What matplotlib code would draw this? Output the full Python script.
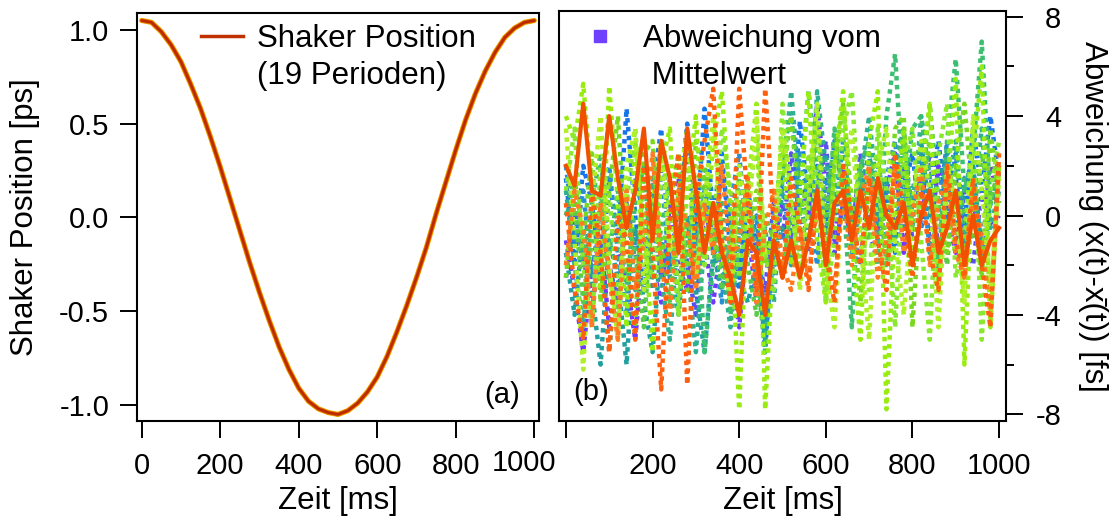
import matplotlib
matplotlib.use("Agg")
import matplotlib.pyplot as plt
import numpy as np
from matplotlib.lines import Line2D
from matplotlib.ticker import MultipleLocator
from matplotlib.transforms import ScaledTranslation

plt.rcParams['font.family'] = ['Liberation Sans', 'DejaVu Sans']
plt.rcParams['axes.unicode_minus'] = False

# (a) shaker position, read every 25 ms
t_pos = np.arange(0, 1001, 25)
shaker_pos = [1.05, 1.04, 0.99, 0.92, 0.83, 0.71, 0.58, 0.43, 0.27, 0.10,
              -0.07, -0.24, -0.40, -0.55, -0.69, -0.81, -0.91, -0.98, -1.02, -1.04,
              -1.05, -1.03, -0.99, -0.93, -0.85, -0.74, -0.61, -0.47, -0.32, -0.16,
              0.02, 0.19, 0.36, 0.52, 0.66, 0.78, 0.88, 0.96, 1.01, 1.04,
              1.05]

# (b) deviation from the mean, read every 20 ms
t_dev = np.arange(0, 1001, 20)
dev_purple = [-1.0, -3.0, -5.5, -2.0, -1.0, -4.5, -1.5, -2.5, -5.0, -1.0,
              -2.0, -3.5, 0.5, -2.0, -3.0, -0.5, -1.0, -3.5, -1.0, -2.0,
              -4.5, -0.5, -3.5, -4.0, -1.0, 0.5, -1.5, 1.5, 0.0, 4.5,
              1.0, -1.0, 2.0, 0.0, -2.0, 1.5, -0.5, 1.0, 2.5, -1.5,
              0.5, 1.5, -1.0, 2.0, 0.0, -1.5, 1.0, 0.5, -1.0, 2.0,
              0.5]
dev_purple2 = [-2.5, 0.0, -1.5, -4.0, -0.5, -2.0, -3.5, 0.5, -1.5, -3.0,
               0.0, -2.5, -1.0, 1.5, -2.0, -4.0, 0.5, -1.5, 2.0, -0.5,
               -2.5, 1.0, -1.5, -3.0, 0.5, -1.0, 2.5, 0.0, -1.5, 1.0,
               3.0, -1.5, 0.5, -1.0, 2.5, -0.5, -2.0, 1.0, -0.5, 2.0,
               -1.0, 0.5, 2.5, -1.5, 0.0, 1.5, -1.0, -2.0, 1.0, -0.5,
               0.0]
dev_blue = [1.5, -2.0, 2.0, 0.5, -2.5, 1.5, -1.0, 4.3, 0.0, -3.0,
            1.0, 3.5, -2.0, 0.5, 3.7, -1.0, 4.3, 0.0, 2.5, -1.5,
            -3.0, 1.0, -1.0, -5.5, 0.0, 1.5, -1.0, 3.8, 0.5, 2.0,
            -0.5, 3.0, 1.0, -1.0, 1.5, -0.5, 2.0, 0.5, -1.5, 1.0,
            2.5, -0.5, 1.0, 3.0, 0.0, 2.5, -0.5, 3.5, 1.0, 4.0,
            1.5]
dev_blue2 = [2.0, -1.0, 1.0, -2.5, 0.5, 2.0, -1.5, -4.0, 1.5, 0.0,
             -3.0, 2.0, -2.5, 0.5, 3.0, -2.0, 1.0, -1.0, -3.5, 0.5,
             2.5, -1.5, 0.0, -4.5, -2.0, 1.0, -1.0, 2.5, 0.5, -2.0,
             1.5, 0.0, 3.0, -1.5, 0.5, 2.5, -1.0, 1.5, 3.0, -0.5,
             1.0, 2.5, -1.5, 0.0, 3.0, -1.0, 1.5, 2.0, -2.0, 0.5,
             1.0]
dev_teal = [-1.5, -4.0, -0.5, -3.0, -6.0, -1.0, -2.5, -6.0, -0.5, -3.5,
            -5.5, -1.0, -2.0, -4.0, 0.0, -3.0, -5.5, -1.5, -3.0, -1.0,
            -2.5, -3.5, -2.0, -5.0, -1.5, -0.5, -2.0, 0.5, -1.0, 1.5,
            2.5, 0.0, 1.5, -0.5, 1.0, 2.5, 0.0, 1.5, -1.0, 2.0,
            0.5, 3.0, 0.0, 1.5, 2.5, -0.5, 1.0, 2.0, -1.5, 0.5,
            1.0]
dev_teal2 = [1.0, -2.0, -4.5, 0.0, -1.5, -5.5, -1.0, 0.5, -3.0, -1.0,
             1.5, -2.5, -5.0, -0.5, -2.0, -5.5, -1.0, 0.5, -2.0, -4.5,
             -0.5, 1.0, -2.0, -0.5, -3.5, 1.5, 5.0, 1.0, -1.0, 5.0,
             2.0, 0.5, 3.0, -0.5, 1.5, 4.0, 0.5, -1.5, 2.0, 3.5,
             -0.5, 4.0, 1.5, -2.5, 1.0, 3.0, -1.0, 0.5, 3.5, -0.5,
             1.0]
dev_green = [0.0, 1.5, -2.0, 0.5, 2.5, -1.5, 1.0, -3.0, 0.5, 2.0,
             -2.5, -0.5, 1.5, -3.5, -1.0, 1.0, -5.5, -2.0, 0.5, -4.0,
             -1.0, 1.5, -2.0, -5.5, 0.0, 2.5, 4.0, 1.0, 5.0, 2.0,
             -1.0, 3.5, 1.0, -4.5, 2.0, 3.0, -2.0, 4.0, 6.5, 0.5,
             3.5, 4.0, 1.5, -2.0, 3.0, 6.3, 1.0, 2.5, 7.0, 0.5,
             2.0]
dev_green2 = [-2.0, 0.5, -3.5, -1.0, 1.0, -2.5, -4.0, 0.0, -1.5, -4.5,
              0.5, -1.0, -3.5, 1.0, -0.5, -2.5, 2.0, 0.0, -3.0, -1.0,
              1.5, -2.0, -4.0, 0.0, -1.0, -2.5, 0.5, -1.5, 1.0, 4.0,
              0.0, 3.0, 1.0, 0.0, 2.0, -1.0, 1.5, -2.0, 0.5, 3.0,
              -0.5, 1.0, 4.5, 0.5, -2.0, 2.0, 0.0, -1.0, 2.5, 0.5,
              2.0]
dev_lime = [4.0, 3.0, 5.3, 1.0, -3.0, 5.2, 0.5, -4.5, 3.0, 0.0,
            -5.5, 2.0, 3.5, -4.0, 1.0, 4.0, -2.0, 3.0, 5.0, 0.0,
            -7.8, 1.0, 4.5, -7.8, -1.0, 3.0, -2.0, 0.5, 5.0, -1.0,
            -3.5, 2.0, 5.0, -1.0, -5.0, 3.0, 5.0, -7.8, 0.0, 3.5,
            -2.0, 1.5, 4.5, -3.0, 1.0, 5.5, -6.0, 2.0, 6.0, -4.5,
            2.0]
dev_lime2 = [3.5, -1.0, -6.2, 0.5, 4.0, -2.0, -5.0, 2.0, 3.5, -3.0,
             0.5, 3.0, -1.5, 1.0, 3.5, -2.5, 0.5, 4.0, -1.0, -3.5,
             2.0, -0.5, 4.0, -1.5, -1.0, 3.5, 1.0, -3.0, 0.5, 4.5,
             -2.0, -4.5, 1.5, 3.5, -1.0, -5.0, 2.0, 3.5, -1.0, -4.0,
             0.5, 3.0, 1.0, -4.5, 2.0, 0.5, -3.5, 4.0, 1.0, -3.0,
             1.5]
dev_lime3 = [-2.5, 1.5, -1.0, 2.5, -3.5, 1.0, 4.0, -2.0, -4.5, 2.5,
             3.0, -2.0, 0.5, 2.5, -3.0, 3.0, 1.5, -1.0, -2.0, -2.5,
             0.5, -1.5, 1.0, -2.0, -0.5, 1.5, 4.0, 0.0, 1.5, 3.5,
             -2.5, 2.0, 4.5, 0.5, -3.5, 1.5, 2.5, -1.5, 3.5, 4.0,
             -4.5, 1.0, 3.0, 0.0, -1.5, 2.0, 4.5, 0.5, -2.5, 3.5,
             0.5]
dev_lime4 = [1.0, 3.5, -2.0, -4.5, 2.0, 1.0, -3.5, 0.5, 3.5, -1.5,
             -2.5, 3.0, 0.0, -4.0, 2.0, 1.5, -2.0, -0.5, 3.5, 1.0,
             -2.5, 0.5, 3.0, -1.5, -3.0, 4.5, 0.5, -2.5, 2.5, 1.5,
             -3.5, -1.0, 3.5, 5.0, -0.5, -3.0, 3.5, 1.0, -4.5, 2.0,
             3.5, -1.0, -5.0, 2.5, 4.5, -2.5, -1.0, 3.5, -5.0, 1.0,
             3.0]
dev_orange = [0.5, -3.0, -5.0, 1.0, -1.5, -5.5, 0.0, -1.0, -5.0, 2.0,
              -1.5, -7.0, 0.0, 2.5, -6.8, 0.5, 3.0, 5.1, -1.0, -3.5,
              5.1, 0.5, -3.0, 5.1, -0.5, -2.5, 1.5, -0.5, -3.0, 1.0,
              -1.5, -3.5, 2.0, 0.0, -2.0, 1.5, -1.0, -3.0, 2.5, 0.0,
              -2.5, 1.0, -1.5, -3.0, 2.0, -1.0, -2.5, 1.5, -2.0, -4.5,
              2.5]
dev_orange2 = [-2.0, 1.0, -0.5, -4.5, 0.5, -2.5, -5.0, 1.0, -3.0, -1.0,
               2.5, -2.0, -4.0, 1.0, -0.5, -3.0, 0.5, -1.5, 2.0, -2.0,
               -1.0, 1.5, -3.5, -0.5, 1.0, -2.0, -3.0, -0.5, -2.5, 0.5,
               -1.5, -3.0, 1.0, -2.0, 0.5, 2.0, -2.5, -1.0, 2.0, -1.5,
               0.0, 2.0, -2.0, 0.5, 1.5, -1.5, -2.5, 1.0, -1.0, -4.0,
               2.0]
dev_thick = [2.0, 1.2, 4.5, 1.0, 0.8, 4.0, 1.5, -0.5, 1.0, 3.5,
             -1.0, 3.0, 1.5, -1.5, 3.5, 1.0, -1.5, 0.5, -1.5, -2.5,
             -4.0, -1.0, -1.5, -4.0, -1.0, -2.5, -1.0, -2.5, -1.0, 1.0,
             -2.0, 0.5, 1.0, -1.0, 1.0, -0.5, 1.5, 0.0, -0.5, 0.5,
             -2.0, 0.0, 1.0, -1.5, -0.5, 1.0, -2.0, 0.0, -2.0, -1.0,
             -0.5]

dotted = [(dev_purple, '#7038ff'), (dev_purple2, '#5a50f0'), (dev_blue, '#1676e8'),
          (dev_blue2, '#2890d0'), (dev_teal, '#22a0a0'), (dev_teal2, '#30b090'),
          (dev_green, '#3cbf70'), (dev_green2, '#5ccc48'), (dev_lime3, '#7ad820'),
          (dev_lime, '#98ec10'), (dev_lime4, '#8ae830'), (dev_lime2, '#b0f028'),
          (dev_orange2, '#ff7a20'), (dev_orange, '#ff6010')]

fs_tick = 21
fs_lab = 22.5
lw_ax = 1.5

fig = plt.figure(figsize=(11.09, 5.25), dpi=100)
ax1 = fig.add_axes([137 / 1109, 104 / 525, 402 / 1109, 408 / 525])
ax2 = fig.add_axes([559 / 1109, 104 / 525, 447 / 1109, 410 / 525])

# ---- (a)
ax1.plot(t_pos, shaker_pos, color='#f2c200', lw=3.8, solid_capstyle='round')
ax1.plot(t_pos, shaker_pos, color='#e86a00', lw=3.1, solid_capstyle='round')
ax1.plot(t_pos, shaker_pos, color='#b82a00', lw=1.9, solid_capstyle='round')
ax1.set_xlim(-12, 1012)
ax1.set_ylim(-1.085, 1.09)
ax1.set_xticks([0, 200, 400, 600, 800, 1000])
ax1.set_yticks([1.0, 0.5, 0.0, -0.5, -1.0])
ax1.set_yticklabels(['1.0', '0.5', '0.0', '-0.5', '-1.0'])
ax1.set_xlabel('Zeit [ms]', fontsize=fs_lab)
ax1.set_ylabel('Shaker Position [ps]', fontsize=fs_lab, va='center')
ax1.yaxis.set_label_coords(-0.279, 0.5)
ax1.text(0.953, 0.064, '(a)', transform=ax1.transAxes, fontsize=fs_tick,
         ha='right', va='center')
h1 = [Line2D([], [], color='#c03000', lw=2.5), Line2D([], [], ls='none')]
ax1.legend(h1, ['Shaker Position', '(19 Perioden)'], loc='upper left',
           bbox_to_anchor=(0.159, 0.973), frameon=False, fontsize=fs_lab,
           handlelength=1.34, handletextpad=0.45, borderpad=0,
           borderaxespad=0, labelspacing=0.22)

# ---- (b)
for vals, col in dotted:
    ax2.plot(t_dev, vals, color=col, lw=3.2, ls=(0, (1, 1)), dash_capstyle='butt')
ax2.plot(t_dev, dev_thick, color='#f05000', lw=3.0)
ax2.set_xlim(-16, 1016)
ax2.set_ylim(-8.27, 8.23)
ax2.set_xticks([0, 200, 400, 600, 800, 1000])
ax2.set_xticklabels(['', '200', '400', '600', '800', '1000'])
ax2.yaxis.set_major_locator(MultipleLocator(4))
ax2.yaxis.set_minor_locator(MultipleLocator(2))
ax2.yaxis.tick_right()
ax2.yaxis.set_label_position('right')
ax2.set_xlabel('Zeit [ms]', fontsize=fs_lab)
ax2.set_ylabel('Abweichung (x(t)-x\u0304(t)) [fs]', fontsize=fs_lab,
               rotation=-90, va='center', ha='center')
ax2.yaxis.set_label_coords(1.195, 0.5)
for lab in ax2.get_yticklabels():
    lab.set_horizontalalignment('right')
ax2.text(0.031, 0.07, '(b)', transform=ax2.transAxes, fontsize=fs_tick,
         ha='left', va='center')
h2 = [Line2D([], [], ls='none', marker='s', ms=8, color='#7040ff'),
      Line2D([], [], ls='none')]
ax2.legend(h2, ['Abweichung vom', ' Mittelwert'], loc='upper left',
           bbox_to_anchor=(0.045, 0.968), frameon=False, fontsize=fs_lab,
           handlelength=1.34, handletextpad=0.7, borderpad=0,
           borderaxespad=0, labelspacing=0.22)

for ax in (ax1, ax2):
    for sp in ax.spines.values():
        sp.set_linewidth(lw_ax)
    ax.tick_params(which='major', direction='out', length=12.3, width=1.4,
                   labelsize=fs_tick)
ax1.tick_params(axis='x', pad=10)
ax1.tick_params(axis='y', pad=7.7)
ax2.tick_params(axis='x', pad=10)
ax2.tick_params(axis='y', which='major', pad=27.4)
ax2.tick_params(axis='y', which='minor', direction='out', length=5.8, width=1.4)

# last label of (a) sits a bit to the left, as in the original
last = ax1.get_xticklabels()[-1]
last.set_transform(last.get_transform() + ScaledTranslation(-0.1, 0.03, fig.dpi_scale_trans))

fig.savefig('out.png', dpi=100)
